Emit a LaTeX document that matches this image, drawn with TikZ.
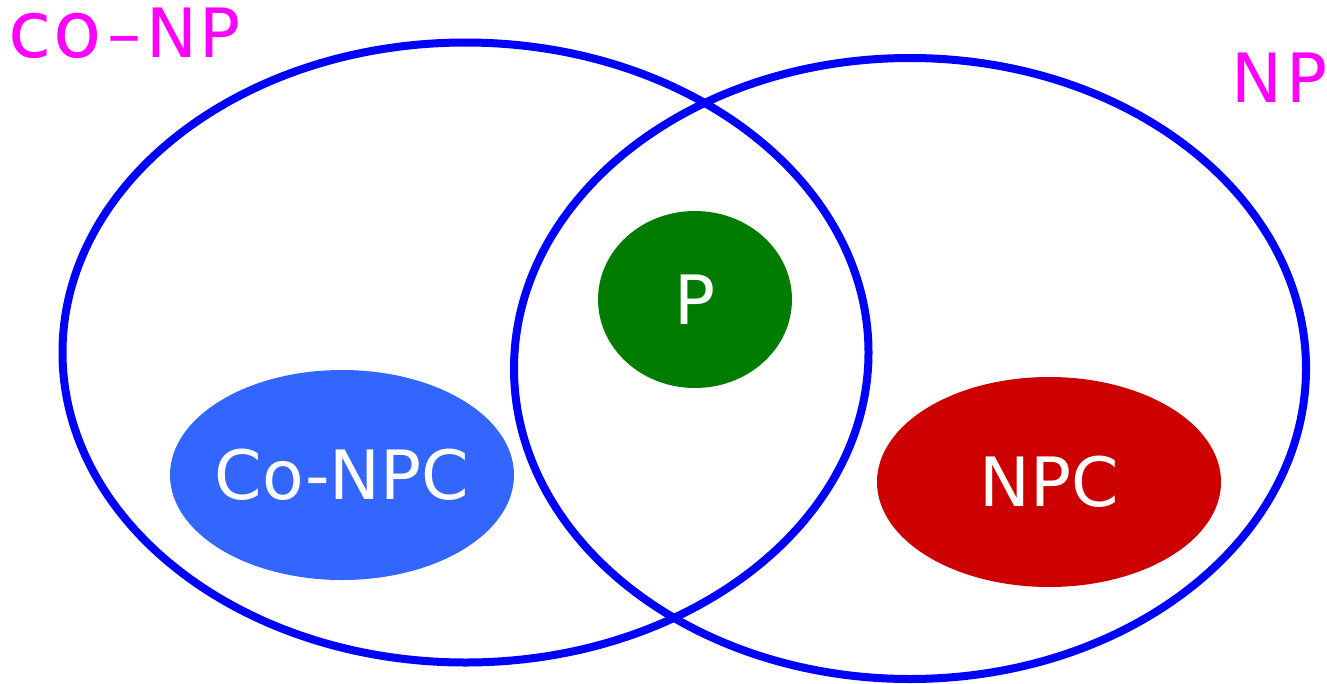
\documentclass[tikz,border=0pt]{standalone}
\usepackage{fontspec}
\setmainfont{DejaVu Sans}
\usetikzlibrary{shapes.geometric}
\definecolor{ringblue}{RGB}{0,0,255}
\definecolor{labmag}{RGB}{255,0,255}
\definecolor{pgreen}{RGB}{0,124,0}
\definecolor{cnblue}{RGB}{51,102,255}
\definecolor{npcred}{RGB}{204,0,0}
\newcommand{\bigglyphs}[1]{{\fontsize{79}{80}\selectfont #1}}
\tikzset{
  ring/.style={draw=ringblue, line width=8pt},
  blob/.style={ellipse, inner sep=0pt, inner xsep=-25pt, text=white, font=\fontsize{68}{72}\selectfont},
  setlabel/.style={text=labmag, font=\fontsize{68}{72}\selectfont, inner sep=0pt, anchor=base west}
}
\begin{document}
\begin{tikzpicture}[x=1pt,y=-1pt]
\useasboundingbox (0,0) rectangle (1327,683);
\draw[ring] (465.5,352.5) ellipse [x radius=403, y radius=310];
\draw[ring] (910,368.5) ellipse [x radius=396, y radius=310.5];
\node[blob, fill=pgreen, minimum width=194pt, minimum height=177pt] (p) at (695,299.5) {P};
\node[blob, fill=cnblue, minimum width=344pt, minimum height=210pt] (conpc) at (342,475) {Co-NPC};
\node[blob, fill=npcred, minimum width=344pt, minimum height=210pt] (npc) at (1049,482) {NPC};
\node[setlabel] (conp) at (8.5,57) {\bigglyphs{c\kern1.5pt o}\kern6pt–\kern4.3ptN\kern2ptP};
\node[setlabel] (np) at (1231,102) {N\kern4ptP};
\end{tikzpicture}
\end{document}
